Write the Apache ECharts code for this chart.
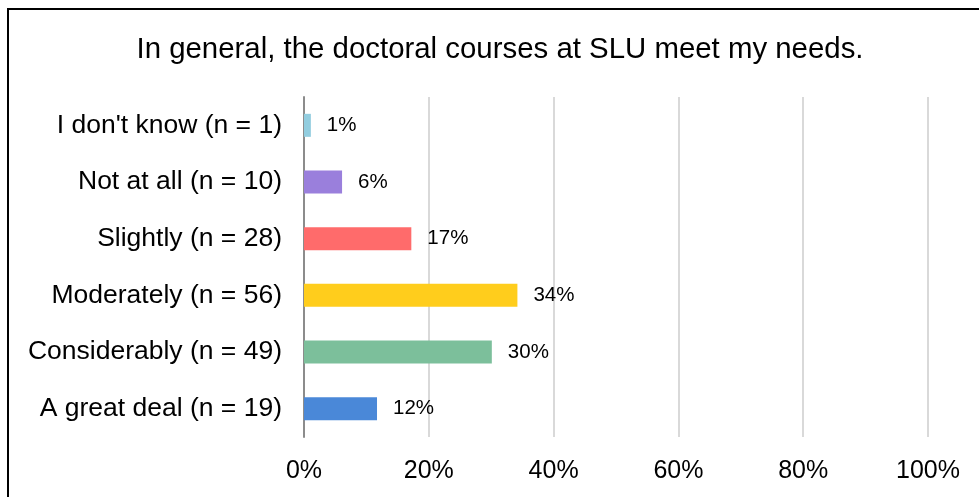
<!DOCTYPE html>
<html>
<head>
    <meta charset="utf-8">
    <title>Doctoral courses</title>
    <script src="https://cdn.jsdelivr.net/npm/echarts/dist/echarts.min.js"></script>
    <style>
        html, body { margin: 0; padding: 0; background: #fff; }
    </style>
</head>
<body>
    <div id="chart" style="width: 979px; height: 497px;"></div>
    <script type="text/javascript">
        // categories, bottom to top
        var categories = ['A great deal (n = 19)', 'Considerably (n = 49)', 'Moderately (n = 56)',
                          'Slightly (n = 28)', 'Not at all (n = 10)', "I don't know (n = 1)"];
        var percents = [11.7, 30.1, 34.2, 17.2, 6.1, 1.1];
        var barColors = ['#4a88d8', '#7cbf9b', '#ffcd1c', '#ff6b6b', '#9a7fdc', '#92cddf'];
        var xTicks = [0, 20, 40, 60, 80, 100];

        var chart = echarts.init(document.getElementById('chart'));

        var option = {
            animation: false,
            textStyle: { fontFamily: 'Liberation Sans, Arial, sans-serif' },
            title: {
                text: 'In general, the doctoral courses at SLU meet my needs.',
                left: 495,
                textAlign: 'center',
                top: 30,
                textStyle: { fontSize: 29.4, fontWeight: 'normal', color: '#000' }
            },
            graphic: [{
                type: 'rect',
                shape: { x: 8, y: 9, width: 1000, height: 520 },
                style: { fill: 'none', stroke: '#000', lineWidth: 2 },
                silent: true
            }],
            grid: { left: 304, right: 51, top: 97, bottom: 60 },
            xAxis: {
                type: 'value',
                min: xTicks[0],
                max: xTicks[xTicks.length - 1],
                interval: 20,
                axisLine: { show: false },
                axisTick: { show: false },
                splitLine: { lineStyle: { color: '#d9d9d9', width: 2 } },
                axisLabel: {
                    formatter: '{value}%',
                    fontSize: 25,
                    color: '#000',
                    margin: 22
                }
            },
            yAxis: {
                type: 'category',
                data: categories,
                axisLine: { lineStyle: { color: '#8c8c8c', width: 2 } },
                axisTick: { show: false },
                axisLabel: { fontSize: 26.5, color: '#000', margin: 22 }
            },
            series: [{
                type: 'bar',
                barWidth: 23,
                data: percents.map(function (v, i) {
                    return { value: v, itemStyle: { color: barColors[i] } };
                }),
                label: {
                    show: true,
                    position: 'right',
                    distance: 16,
                    fontSize: 20.5,
                    color: '#000',
                    formatter: function (p) { return Math.round(p.value) + '%'; }
                }
            }]
        };

        chart.setOption(option);
    </script>
</body>
</html>
